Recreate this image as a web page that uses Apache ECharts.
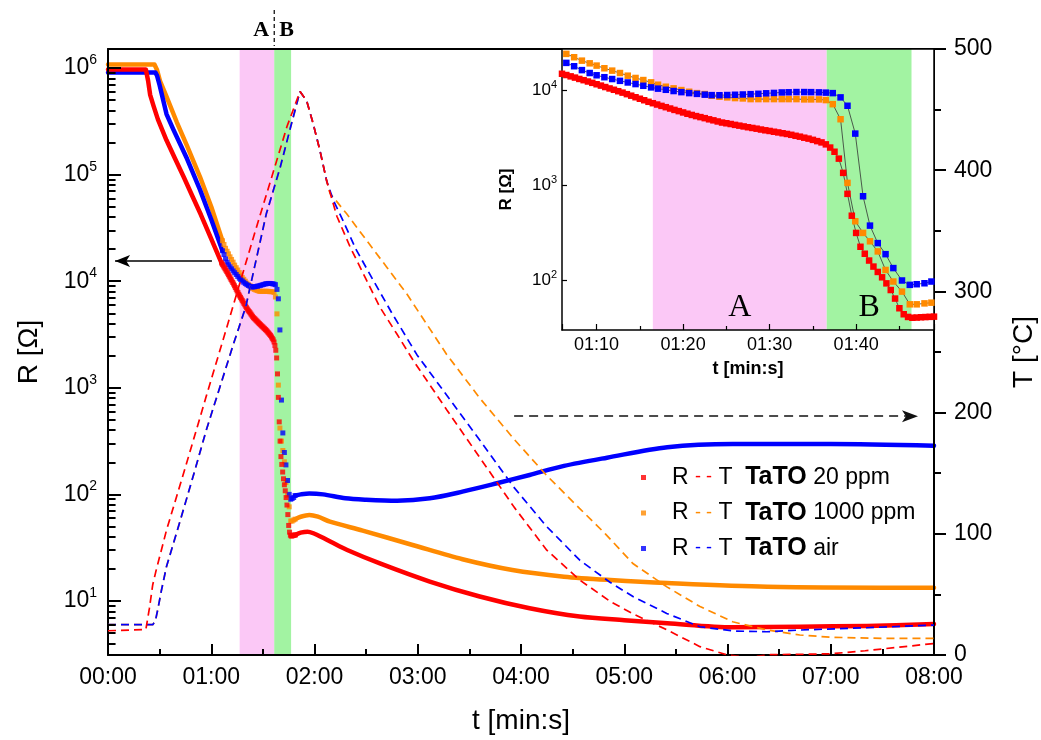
<!DOCTYPE html>
<html>
<head>
<meta charset="utf-8">
<script src="https://cdn.jsdelivr.net/npm/echarts@6.0.0/dist/echarts.min.js"></script>
<style>
  html, body { margin: 0; padding: 0; background: #fff; }
  #chart { width: 1041px; height: 740px; }
</style>
</head>
<body>
<div id="chart"></div>
<script>
(function(){
  // ---- data (t in seconds, R in ohm, T in degC) ----
  const gases = ['20 ppm', '1000 ppm', 'air'];
  const gasColors = ['#ff0000', '#ff8a00', '#0000ff'];
  const drawOrder = [1, 2, 0];

  const zoneA = [76.5, 96.6];
  const zoneB = [96.6, 106.4];

  // R before the zoomed window
  const rEarly20 = [[0,970000],[22,970000],[23.3,760000],[24.5,560000],[26.5,440000],[29,330000],[34,210000],[39,141000],[44,95000],[49,63000],[54,42000],[60,25000],[66,14800]];
  const rEarly1000 = [[0,1080000],[27,1080000],[28.5,960000],[30.2,760000],[34,540000],[40,310000],[46,185000],[53.5,95000],[60,50000],[66.5,24000]];
  const rEarlyAir = [[0,910000],[27.5,910000],[28.5,850000],[30,690000],[34,370000],[38,265000],[46,140000],[53.5,72000],[60,38000],[66.5,19300]];

  // R in the zoomed window (also drawn in the inset)
  const tWin20 = [66,66.5,67,67.5,68,68.5,69,69.5,70,70.5,71,71.5,72,72.5,73,73.5,74,74.5,75,75.5,76,76.5,77,77.5,78,78.5,79,79.5,80,80.5,81,81.5,82,82.5,83,83.5,84,84.5,85,85.5,86,86.5,87,87.5,88,88.5,89,89.5,90,90.5,91,91.5,92,92.5,93,93.5,94,94.5,95,95.5,96,96.5,97,97.5,98,98.5,99,99.5,100,100.5,101,101.5,102,102.5,103,103.5,104,104.5,105,105.5,106,106.5,107,107.5,108,108.5,109];
  const rWin20 = [14830,14390,13930,13520,13090,12700,12300,11910,11510,11140,10760,10400,10070,9730,9400,9060,8730,8410,8110,7820,7530,7280,7050,6820,6610,6400,6190,6010,5820,5640,5480,5330,5200,5070,4930,4810,4680,4560,4480,4400,4310,4230,4150,4070,4000,3930,3850,3780,3720,3650,3590,3520,3460,3390,3310,3240,3160,3090,3000,2910,2820,2690,2490,2250,1905,1350,813,479,316,226,191,162,140,123,108,93.3,79.4,64.6,51.1,44.2,41.4,40.6,40.8,41.1,41.3,41.5,41.7];
  const tWinBO = [66.5,67.4,68.3,69.2,70.0,70.9,71.8,72.7,73.6,74.5,75.4,76.3,77.1,78.0,78.9,79.8,80.7,81.6,82.5,83.3,84.2,85.1,86.0,86.9,87.8,88.7,89.6,90.5,91.4,92.2,93.1,94.0,94.8,95.7,96.5,97.3,98.2,99.0,99.9,100.8,101.6,102.5,103.4,104.3,105.3,106.2,107.0,107.9,108.7];
  const rWin1000 = [24000,22130,20370,19100,18070,16940,16000,15100,14160,13400,12740,12050,11380,10840,10420,10000,9600,9290,9080,8710,8510,8380,8240,8170,8040,8040,8040,8040,8040,8040,8040,7980,7980,7980,7850,7110,4940,1060,419,316,258,202,129,97.5,76.4,56.2,56.2,57.5,58.5];
  const rWinAir = [19300,17800,16200,15100,14300,13650,13060,12500,12020,11560,11090,10670,10350,10070,9770,9510,9290,9120,8950,8850,8830,8870,8930,8990,9060,9140,9250,9330,9440,9480,9530,9530,9510,9460,9400,9290,8380,6840,3490,767,377,247,189,135,100,90,91.4,93.5,97.5];

  // R after the zoomed window
  const rLate20 = [[109,41.7],[112,43.7],[116,44.7],[120,42.7],[124,39.8],[130,35.5],[139,30.1],[158,22.5],[187,15.2],[216,11.0],[245,8.53],[274,7.13],[300,6.6],[325,6.18],[363,5.66],[402,5.74],[441,5.83],[480,6.08]];
  const rLate1000 = [[108.7,58.5],[112,61.7],[117,64.1],[122,61.7],[129,55.5],[148,45.7],[177,33.5],[206,24.6],[235,19.5],[265,16.9],[292,15.7],[325,14.7],[383,13.6],[480,13.3]];
  const rLateAir = [[108.7,97.5],[112,100],[117,102],[125,100],[138,91.8],[150,89.1],[168,87.3],[187,91.8],[206,106],[226,127],[245,152],[265,185],[290,221],[325,277],[363,297],[420,297],[480,286]];

  // heater temperature
  const temp20 = [[0,20],[22,21],[24,38],[26,58],[28,70],[34,103],[45,155],[57,213],[70,275],[85,347],[97,403],[104,436],[111.6,465],[115.5,457],[119.3,438],[123.2,416],[127.1,391],[133,362],[140.6,337],[150.3,309],[158,287],[167.8,265],[177.4,243],[197,202],[216,163],[236,122],[255,86.5],[274,62],[292,44],[305,34],[325,20.6],[344,6.9],[360,0],[372,-2],[385,0.3],[400,0.5],[420,1],[440,3.5],[460,6.5],[480,9.5]];
  const temp1000 = [[0,25],[26,25],[27.5,28],[29,38],[31,53],[34,73],[42,111],[50,150],[57,185],[65,221],[73,257],[80,287],[92,364],[100,402],[106,435],[111.6,465],[115.5,457],[119.3,438],[123.2,416],[127.1,391],[129,381],[138.7,364],[150.3,342],[162,320],[173.6,298],[185.2,273],[196.8,248],[216,212],[236,178],[255,148],[274,121],[289,100],[305,75.5],[325,56],[344,40],[363,27.4],[383,20.6],[402,16.5],[421,14.6],[450,13.7],[480,13.7]];
  const tempAir = [[0,25],[26,25],[27.5,28],[29,38],[31,53],[34,73],[42,111],[50,150],[57,185],[65,221],[73,257],[80,287],[92,364],[100,402],[106,435],[111.6,465],[115.5,457],[119.3,438],[123.2,416],[127.1,391],[131,375],[136.7,358],[144,335],[154.2,309],[165,282],[179.4,248],[200.6,207],[216.2,177],[235.5,139],[254.9,106],[274.3,78],[291.7,60],[305.3,48],[324.7,34.3],[344,23.3],[363.4,19.8],[382.8,19.2],[402.1,20.6],[440.9,22.5],[480,24.7]];

  const logMantissas = [2, 3, 4, 5, 6, 7, 8, 9];
  const logDecades = [1, 10, 100, 1000, 10000, 100000];

  // ---- helpers ----
  const zip = (ts, vs) => ts.map((t, i) => [t, vs[i]]);
  const rEarly = [rEarly20, rEarly1000, rEarlyAir];
  const rWindow = [zip(tWin20, rWin20), zip(tWinBO, rWin1000), zip(tWinBO, rWinAir)];
  const rLate = [rLate20, rLate1000, rLateAir];
  const temps = [temp20, temp1000, tempAir];

  const FONT = '"Liberation Sans", Arial, sans-serif';
  const SERIF = '"Liberation Serif", "Times New Roman", serif';
  const rMin = 3.11, rMax = 1.51e6;
  const insetRMin = 30.2, insetRMax = 27000;
  const pink = '#fbc8f6', green = '#a2f3a2';
  const minorTickSpan = 4.4; // seconds, about 7.5 px

  const pad = n => String(n).padStart(2, '0');
  const mmss = v => pad(Math.floor(v / 60)) + ':' + pad(Math.round(v % 60));
  const pow10 = v => '10{s|' + Math.round(Math.log10(v)) + '}';

  const minorR = [];
  logDecades.forEach(d => logMantissas.forEach(m => {
    const v = m * d;
    if (v > rMin && v < rMax) minorR.push(v);
  }));

  const series = [];

  // main chart: window points as squares (first per name -> legend icon)
  drawOrder.forEach(i => {
    const s = {
      name: gases[i], type: 'scatter', xAxisIndex: 0, yAxisIndex: 0,
      data: rWindow[i], symbol: 'rect', symbolSize: 5,
      itemStyle: { color: gasColors[i] }, z: 2, silent: true
    };
    if (i === 1) {
      s.markArea = {
        silent: true, z: 1,
        label: { show: false },
        data: [
          [{ xAxis: zoneA[0], itemStyle: { color: pink, opacity: 1 } }, { xAxis: zoneA[1] }],
          [{ xAxis: zoneB[0], itemStyle: { color: green, opacity: 1 } }, { xAxis: zoneB[1] }]
        ]
      };
    }
    series.push(s);
  });

  drawOrder.forEach(i => {
    [rEarly[i], rLate[i]].forEach((d, k) => {
      const s = {
        name: gases[i], type: 'line', xAxisIndex: 0, yAxisIndex: 0,
        data: d, showSymbol: false, symbol: 'none', smooth: k === 1 ? 0.3 : false,
        lineStyle: { width: 4.5, color: gasColors[i], cap: 'round', join: 'round' },
        z: 2, silent: true
      };
      if (i === 0 && k === 0) {
        s.markLine = {
          silent: true, symbol: ['none', 'arrow'], symbolSize: [9, 15],
          lineStyle: { color: '#000', width: 1.5, type: 'solid' },
          label: { show: false }, emphasis: { disabled: true },
          data: [[{ coord: [60.4, 15500] }, { coord: [4.1, 15500] }]]
        };
      }
      if (i === 0 && k === 1) {
        // 2..9 minor ticks of the log axis, as short segments from the axis line
        s.markLine = {
          silent: true, symbol: ['none', 'none'], z: 6,
          lineStyle: { color: '#000', width: 2, type: 'solid' },
          label: { show: false }, emphasis: { disabled: true },
          data: minorR.map(v => [{ coord: [0, v] }, { coord: [minorTickSpan, v] }])
        };
      }
      series.push(s);
    });
  });

  drawOrder.forEach(i => {
    const s = {
      name: 'T ' + gases[i], type: 'line', xAxisIndex: 0, yAxisIndex: 1,
      data: temps[i], showSymbol: false, symbol: 'none',
      lineStyle: { width: 1.7, color: gasColors[i], type: [8, 5] },
      z: 4, silent: true
    };
    if (i === 0) {
      s.markLine = {
        silent: true, symbol: ['none', 'arrow'], symbolSize: [9, 16],
        lineStyle: { color: '#111', width: 1.6, type: [9, 6] },
        label: { show: false }, emphasis: { disabled: true },
        data: [[{ coord: [236, 197] }, { coord: [470.7, 197] }]]
      };
    }
    series.push(s);
  });

  // inset
  drawOrder.forEach(i => {
    const s = {
      name: gases[i], type: 'line', xAxisIndex: 1, yAxisIndex: 2,
      data: rWindow[i], symbol: 'rect', symbolSize: 6.5, showSymbol: true, showAllSymbol: true,
      itemStyle: { color: gasColors[i], borderWidth: 0 },
      lineStyle: { color: '#333', width: 0.8 },
      z: 13, silent: true
    };
    if (i === 1) {
      s.markArea = {
        silent: true, z: 11,
        label: { show: true, position: 'insideBottom', distance: 6, fontFamily: SERIF, fontSize: 32, color: '#000' },
        data: [
          [{ name: 'A', xAxis: zoneA[0], itemStyle: { color: pink, opacity: 1 } }, { xAxis: zoneA[1] }],
          [{ name: 'B', xAxis: zoneB[0], itemStyle: { color: green, opacity: 1 } }, { xAxis: zoneB[1] }]
        ]
      };
    }
    series.push(s);
  });

  const lineOnly = (extra) => Object.assign({
    type: 'value', min: 0, max: 1, silent: true,
    axisLine: { show: true, onZero: false, lineStyle: { color: '#000', width: 1.5 } },
    axisTick: { show: false }, axisLabel: { show: false }, splitLine: { show: false }
  }, extra);

  const chart = echarts.init(document.getElementById('chart'), null, { renderer: 'canvas' });
  chart.setOption({
    animation: false,
    backgroundColor: '#fff',
    textStyle: { fontFamily: FONT, color: '#000' },
    grid: [
      { left: 108, right: 107, top: 49, bottom: 85, show: false, outerBoundsMode: 'none' },
      { left: 562, right: 107, top: 49, bottom: 410, show: true, backgroundColor: '#fff', borderWidth: 0, z: 10, outerBoundsMode: 'none' }
    ],
    xAxis: [
      {
        gridIndex: 0, type: 'value', min: 0, max: 480, interval: 60, z: 3,
        axisLine: { show: true, onZero: false, lineStyle: { color: '#000', width: 2 } },
        axisTick: { show: true, inside: true, length: 11, lineStyle: { color: '#000', width: 2 } },
        minorTick: { show: true, splitNumber: 2, length: 6, lineStyle: { color: '#000', width: 2 } },
        axisLabel: { formatter: mmss, fontSize: 23, color: '#000', margin: 11, fontFamily: FONT },
        splitLine: { show: false },
        name: 't [min:s]', nameLocation: 'middle', nameGap: 52,
        nameTextStyle: { fontSize: 28, color: '#000', fontFamily: FONT }
      },
      {
        gridIndex: 1, type: 'value', min: 66, max: 109, splitNumber: 5, z: 12,
        axisLine: { show: true, onZero: false, lineStyle: { color: '#000', width: 1.5 } },
        axisTick: { show: true, inside: true, length: 6, lineStyle: { color: '#000', width: 1.2 } },
        minorTick: { show: true, splitNumber: 2, length: 4, lineStyle: { color: '#000', width: 1.2 } },
        axisLabel: { formatter: mmss, fontSize: 18, color: '#000', margin: 6, showMinLabel: false, showMaxLabel: false, fontFamily: FONT },
        splitLine: { show: false },
        name: 't [min:s]', nameLocation: 'middle', nameGap: 30,
        nameTextStyle: { fontSize: 18, fontWeight: 'bold', color: '#000', fontFamily: FONT }
      },
      lineOnly({ gridIndex: 1, position: 'top', z: 12 }),
      lineOnly({ gridIndex: 0, position: 'top', z: 3, axisLine: { show: true, onZero: false, lineStyle: { color: '#000', width: 2 } } })
    ],
    yAxis: [
      {
        gridIndex: 0, type: 'log', min: rMin, max: rMax, position: 'left', z: 3,
        axisLine: { show: true, onZero: false, lineStyle: { color: '#000', width: 2 } },
        axisTick: { show: true, inside: true, length: 13, lineStyle: { color: '#000', width: 2 } },
        axisLabel: {
          formatter: pow10, fontSize: 23, lineHeight: 30, color: '#000', margin: 11,
          showMinLabel: false, showMaxLabel: false, fontFamily: FONT,
          rich: { s: { fontSize: 14, verticalAlign: 'top', color: '#000', fontFamily: FONT } }
        },
        splitLine: { show: false },
        name: 'R [Ω]', nameLocation: 'middle', nameGap: 65, nameRotate: 90,
        nameTextStyle: { fontSize: 28, color: '#000', fontFamily: FONT }
      },
      {
        gridIndex: 0, type: 'value', min: 0, max: 500, interval: 100, position: 'right', z: 3,
        axisLine: { show: true, onZero: false, lineStyle: { color: '#000', width: 2 } },
        axisTick: { show: true, inside: false, length: 12, lineStyle: { color: '#000', width: 2 } },
        minorTick: { show: true, splitNumber: 2, length: 7, lineStyle: { color: '#000', width: 2 } },
        axisLabel: { fontSize: 23, color: '#000', margin: 20, fontFamily: FONT },
        splitLine: { show: false },
        name: 'T [°C]', nameLocation: 'middle', nameGap: 76, nameRotate: 90,
        nameTextStyle: { fontSize: 28, color: '#000', fontFamily: FONT }
      },
      {
        gridIndex: 1, type: 'log', min: insetRMin, max: insetRMax, position: 'left', z: 12,
        axisLine: { show: true, onZero: false, lineStyle: { color: '#000', width: 1.5 } },
        axisTick: { show: true, inside: true, length: 5, lineStyle: { color: '#000', width: 1.2 } },
        axisLabel: {
          formatter: pow10, fontSize: 17, lineHeight: 22, color: '#000', margin: 5,
          showMinLabel: false, showMaxLabel: false, fontFamily: FONT,
          rich: { s: { fontSize: 11, verticalAlign: 'top', color: '#000', fontFamily: FONT } }
        },
        splitLine: { show: false },
        name: 'R [Ω]', nameLocation: 'middle', nameGap: 47, nameRotate: 90,
        nameTextStyle: { fontSize: 17, fontWeight: 'bold', color: '#000', fontFamily: FONT }
      },
      lineOnly({ gridIndex: 1, position: 'right', z: 12 })
    ],
    legend: {
      orient: 'vertical', left: 641, top: 465, padding: 0, itemGap: 10.5,
      itemWidth: 5, itemHeight: 5, icon: 'rect', selectedMode: false,
      data: gases.map((g, i) => ({ name: g, itemStyle: { color: gasColors[i] } })),
      formatter: name => {
        const i = gases.indexOf(name);
        return '{g|}R {d' + i + '|- -} T  {b|TaTO} ' + name;
      },
      textStyle: {
        fontSize: 23, color: '#000', fontFamily: FONT,
        rich: {
          g: { width: 21 },
          d0: { color: gasColors[0], fontSize: 18 },
          d1: { color: gasColors[1], fontSize: 18 },
          d2: { color: gasColors[2], fontSize: 18 },
          b: { fontWeight: 'bold', fontSize: 25, color: '#000' }
        }
      }
    },
    series
  });

  // A | B marker above the plot at the zone boundary
  const bx = chart.convertToPixel({ xAxisIndex: 0 }, zoneA[1]);
  chart.setOption({
    graphic: [
      { type: 'text', x: bx - 5, y: 30, style: { text: 'A', font: 'bold 22px ' + SERIF, fill: '#000', align: 'right', verticalAlign: 'middle' } },
      { type: 'text', x: bx + 5, y: 30, style: { text: 'B', font: 'bold 22px ' + SERIF, fill: '#000', align: 'left', verticalAlign: 'middle' } },
      { type: 'line', shape: { x1: bx, y1: 10, x2: bx, y2: 46 }, style: { stroke: '#000', lineWidth: 1.2, lineDash: [4, 3] } }
    ]
  });
})();
</script>
</body>
</html>
